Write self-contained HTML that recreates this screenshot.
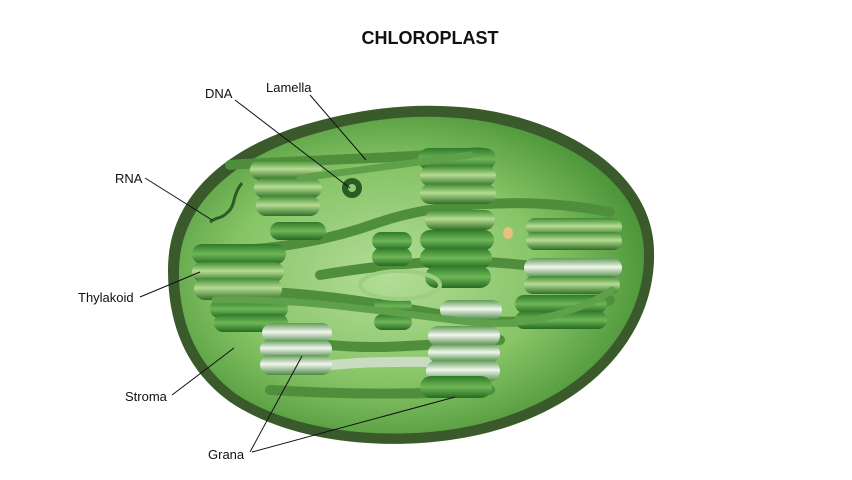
<!DOCTYPE html>
<html><head><style>
body{margin:0;background:#fff;}
svg{display:block;}
text{font-family:"Liberation Sans",sans-serif;font-size:13px;fill:#111;}
</style></head><body>
<svg width="852" height="480" viewBox="0 0 852 480">
<defs>
<radialGradient id="st" cx="0.45" cy="0.5" r="0.62">
<stop offset="0" stop-color="#b4dd98"/><stop offset="0.55" stop-color="#86c466"/><stop offset="1" stop-color="#3e8a2e"/>
</radialGradient>
<linearGradient id="dg" x1="0" y1="0" x2="0" y2="1">
<stop offset="0" stop-color="#3f8a32"/><stop offset="0.45" stop-color="#b6dc92"/><stop offset="1" stop-color="#2f6e26"/>
</linearGradient>
<linearGradient id="wg" x1="0" y1="0" x2="0" y2="1">
<stop offset="0" stop-color="#5f9a56"/><stop offset="0.45" stop-color="#f2f6ee"/><stop offset="1" stop-color="#4a8a42"/>
</linearGradient>
<linearGradient id="mg" x1="0" y1="0" x2="0" y2="1">
<stop offset="0" stop-color="#2f7a2a"/><stop offset="0.5" stop-color="#6eb656"/><stop offset="1" stop-color="#256a22"/>
</linearGradient>
</defs>
<text x="430" y="44" text-anchor="middle" style="font-size:18px;font-weight:bold">CHLOROPLAST</text>
<path d="M168,270 C168,190 236,146 300,126 C360,108 410,103 460,107 C560,115 652,170 654,250 C657,340 580,422 450,440 C380,450 290,442 230,402 C183,368 168,320 168,270 Z" fill="#3b5a2c"/>
<path d="M179,272 C179,198 244,156 304,137 C362,119 410,114 458,118 C552,126 642,176 644,252 C646,334 574,412 448,430 C380,439 294,432 236,394 C193,362 179,318 179,272 Z" fill="url(#st)"/>
<g stroke="#4f8f3c" stroke-width="10" fill="none" stroke-linecap="round">
<path d="M230,165 C300,160 360,160 480,152"/>
<path d="M200,252 C280,250 330,240 380,222 C430,205 520,195 610,212"/>
<path d="M200,290 C300,290 360,300 460,318 C540,330 580,310 610,300"/>
<path d="M320,275 C400,262 470,255 560,270"/>
<path d="M270,390 C350,395 420,395 490,390"/>
<path d="M330,345 C380,350 420,345 500,340"/>
<path d="M285,370 C360,360 400,362 440,362" stroke="#c9dcc0"/>
</g>
<g><rect x="250" y="160" width="72" height="20" rx="10" fill="url(#dg)"/><rect x="254" y="178" width="68" height="20" rx="10" fill="url(#dg)"/><rect x="256" y="196" width="64" height="20" rx="10" fill="url(#dg)"/></g>
<g><rect x="418" y="148" width="78" height="22" rx="11" fill="url(#mg)"/><rect x="420" y="166" width="76" height="20" rx="10" fill="url(#dg)"/><rect x="420" y="184" width="76" height="20" rx="10" fill="url(#dg)"/><rect x="425" y="210" width="70" height="20" rx="10" fill="url(#dg)"/><rect x="420" y="230" width="74" height="20" rx="10" fill="url(#mg)"/><rect x="420" y="248" width="72" height="20" rx="10" fill="url(#mg)"/><rect x="425" y="266" width="66" height="22" rx="11" fill="url(#mg)"/></g>
<g><rect x="372" y="232" width="40" height="18" rx="9" fill="url(#mg)"/><rect x="372" y="248" width="40" height="18" rx="9" fill="url(#mg)"/><rect x="374" y="298" width="38" height="16" rx="8" fill="url(#mg)"/><rect x="374" y="314" width="38" height="16" rx="8" fill="url(#mg)"/></g>
<g><rect x="192" y="244" width="94" height="20" rx="10" fill="url(#mg)"/><rect x="192" y="262" width="92" height="20" rx="10" fill="url(#dg)"/><rect x="194" y="278" width="88" height="22" rx="11" fill="url(#dg)"/><rect x="210" y="300" width="78" height="18" rx="9" fill="url(#mg)"/><rect x="214" y="314" width="74" height="18" rx="9" fill="url(#mg)"/><rect x="270" y="222" width="56" height="18" rx="9" fill="url(#mg)"/></g>
<g><rect x="262" y="323" width="70" height="20" rx="10" fill="url(#wg)"/><rect x="260" y="340" width="72" height="18" rx="9" fill="url(#wg)"/><rect x="260" y="355" width="72" height="20" rx="10" fill="url(#wg)"/></g>
<g><rect x="440" y="300" width="62" height="20" rx="10" fill="url(#wg)"/><rect x="428" y="326" width="72" height="20" rx="10" fill="url(#wg)"/><rect x="428" y="344" width="72" height="18" rx="9" fill="url(#wg)"/><rect x="426" y="360" width="74" height="22" rx="11" fill="url(#wg)"/><rect x="420" y="376" width="72" height="22" rx="11" fill="url(#mg)"/></g>
<g><rect x="526" y="218" width="96" height="18" rx="9" fill="url(#dg)"/><rect x="526" y="232" width="96" height="18" rx="9" fill="url(#dg)"/><rect x="524" y="258" width="98" height="20" rx="10" fill="url(#wg)"/><rect x="524" y="276" width="96" height="18" rx="9" fill="url(#dg)"/><rect x="515" y="295" width="92" height="18" rx="9" fill="url(#mg)"/><rect x="515" y="311" width="92" height="18" rx="9" fill="url(#mg)"/></g>
<g stroke="#5fa04a" stroke-width="7" fill="none" stroke-linecap="round">
<path d="M300,178 C360,170 400,165 470,155"/>
<path d="M215,300 C300,298 370,310 470,322 C540,330 600,300 612,290"/>
</g>
<ellipse cx="400" cy="285" rx="40" ry="14" fill="none" stroke="#9ccf80" stroke-width="4"/>
<circle cx="352" cy="188" r="10" fill="#2b5a24"/><circle cx="352" cy="188" r="4" fill="#8ccc6c"/>
<path d="M242,183 C232,195 236,205 228,212 C220,220 218,216 210,222" stroke="#2e5a26" stroke-width="3" fill="none"/>
<ellipse cx="508" cy="233" rx="5" ry="6" fill="#e6c07c"/>
<g stroke="#111" stroke-width="1" fill="none">
<line x1="235" y1="100" x2="350" y2="188"/>
<line x1="310" y1="95" x2="366" y2="160"/>
<line x1="145" y1="178" x2="212" y2="220"/>
<line x1="140" y1="297" x2="200" y2="272"/>
<line x1="172" y1="395" x2="234" y2="348"/>
<line x1="250" y1="452" x2="302" y2="356"/>
<line x1="252" y1="452" x2="455" y2="397"/>
</g>
<text x="205" y="98">DNA</text>
<text x="266" y="92">Lamella</text>
<text x="115" y="183">RNA</text>
<text x="78" y="302">Thylakoid</text>
<text x="125" y="401">Stroma</text>
<text x="208" y="459">Grana</text>
</svg>
</body></html>
